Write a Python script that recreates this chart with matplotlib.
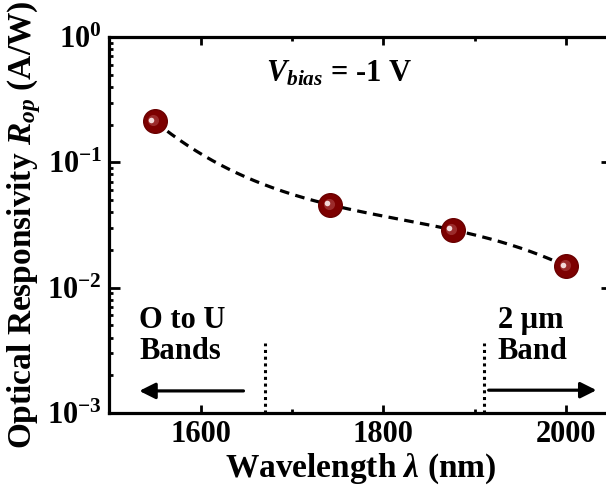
import matplotlib
matplotlib.use('Agg')
import matplotlib.pyplot as plt
import numpy as np

plt.rcParams['font.family'] = ['Liberation Serif', 'DejaVu Serif']
plt.rcParams['font.weight'] = 'bold'
plt.rcParams['mathtext.fontset'] = 'custom'
plt.rcParams['mathtext.rm'] = 'Liberation Serif:bold'
plt.rcParams['mathtext.it'] = 'Liberation Serif:italic:bold'
plt.rcParams['mathtext.bf'] = 'Liberation Serif:bold'

# data
wavelength = [1550, 1742, 1876, 2000]
responsivity = [0.212, 0.0458, 0.0289, 0.0148]

# band boundaries (dotted lines)
band_edges = [1670, 1910]
band_tops = [0.0036, 0.0036]

fig = plt.figure(figsize=(6.06, 4.87), dpi=100)
ax = fig.add_axes([0.180, 0.152, 0.830, 0.772])

# smooth guide line through the points (cubic in log space)
coef = np.polyfit(wavelength, np.log10(responsivity), 3)
xs = np.linspace(wavelength[0], wavelength[-1], 200)
ax.plot(xs, 10 ** np.polyval(coef, xs), color='k', lw=2.3, ls=(0, (3, 2)), zorder=2)

# spheres
ax.plot(wavelength, responsivity, 'o', ms=17, color='#7d0000', mec='#6a0000', zorder=3)
ax.plot(np.array(wavelength) - 2, np.array(responsivity) * 1.02, 'o', ms=8,
        color='#b04848', mec='none', alpha=0.6, zorder=4)
ax.plot(np.array(wavelength) - 4, np.array(responsivity) * 1.03, 'o', ms=4,
        color='#f2d8d8', mec='none', zorder=5)

for xe, yt in zip(band_edges, band_tops):
    ax.plot([xe, xe], [1e-3, yt], color='k', lw=2.2, ls=(0, (1, 1.2)), zorder=2)

ax.annotate('', xy=(1530, 1.5e-3), xytext=(1650, 1.5e-3),
            arrowprops=dict(arrowstyle='-|>', color='k', lw=2.3, mutation_scale=24))
ax.annotate('', xy=(2036, 1.52e-3), xytext=(1912, 1.52e-3),
            arrowprops=dict(arrowstyle='-|>', color='k', lw=2.3, mutation_scale=24))

ax.text(1533, 7.1e-3, 'O to U\nBands', fontsize=22, fontweight='bold',
        va='top', ha='left', linespacing=1.1)
ax.text(1925, 7.1e-3, '2 μm\nBand', fontsize=22, fontweight='bold',
        va='top', ha='left', linespacing=1.1)
ax.text(1672, 0.51, r'$V_{bias}$ = -1 V', fontsize=22, fontweight='bold', va='center')

ax.set_yscale('log')
ax.set_xlim(1500, 2050)
ax.set_ylim(1e-3, 1)
ax.set_xticks([1600, 1800, 2000])
ax.set_xticks([1700, 1900], minor=True)

ax.tick_params(which='both', direction='in', top=True, right=True, labelsize=22, width=2)
ax.tick_params(which='major', length=6, pad=5)
ax.tick_params(which='minor', length=3)
ax.tick_params(axis='y', which='major', right=True, length=8)
for s in ax.spines.values():
    s.set_linewidth(2.3)
# right spine lies just outside the cropped picture
ax.spines['right'].set_visible(False)

ax.set_xlabel(r'Wavelength $\lambda$ (nm)', fontsize=24, fontweight='bold', labelpad=2)
ax.set_ylabel(r'Optical Responsivity $R_{op}$ (A/W)', fontsize=24, fontweight='bold', labelpad=3)

fig.savefig('out.png', dpi=100)
